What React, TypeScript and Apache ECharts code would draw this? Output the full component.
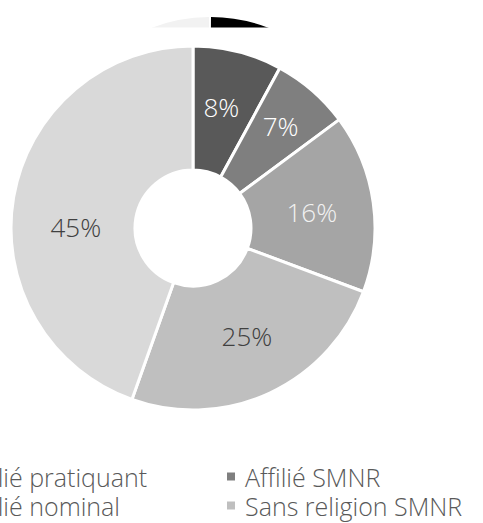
import React, { useEffect, useRef } from "react";
import * as echarts from "echarts";

const categories = [
  "Affilié pratiquant",
  "Affilié SMNR",
  "Affilié nominal",
  "Sans religion SMNR",
  "Sans religion",
];
const values = [8, 7, 16, 25, 45];
const colors = ["#595959", "#7f7f7f", "#a5a5a5", "#bfbfbf", "#d9d9d9"];
const labelColors = ["#ffffff", "#ffffff", "#f2f2f2", "#404040", "#404040"];
// small nudges of the in-slice labels (layout only)
const labelNudgeX = [-2, 7, -3, 2, 4];
const labelNudgeY = [-2, -9, 1, -4, 20];

const FONT = "'Open Sans', 'Noto Sans', sans-serif";

export default function App() {
  const ref = useRef<HTMLDivElement>(null);
  useEffect(() => {
    if (!ref.current) return;
    const chart = echarts.init(ref.current, null, { renderer: "svg" });
    const legendText = {
      fontFamily: FONT,
      fontSize: 25,
      fontWeight: 300,
      color: "#595959",
      padding: [0, 0, 0, 4],
    };
    const top = -Math.PI / 2;
    chart.setOption({
      animation: false,
      backgroundColor: "#ffffff",
      legend: [
        {
          data: [categories[0], categories[2]],
          orient: "vertical",
          left: -58,
          top: 464,
          padding: 0,
          itemWidth: 10,
          itemHeight: 10,
          itemGap: 4,
          icon: "rect",
          selectedMode: false,
          textStyle: legendText,
        },
        {
          data: [categories[1], categories[3]],
          orient: "vertical",
          left: 225,
          top: 464,
          padding: 0,
          itemWidth: 10,
          itemHeight: 10,
          itemGap: 4,
          icon: "rect",
          selectedMode: false,
          textStyle: legendText,
        },
      ],
      graphic: [
        {
          type: "sector",
          z: 1,
          shape: { cx: 210, cy: 182, r: 165, r0: 148, startAngle: top - 0.37, endAngle: top - 0.006 },
          style: { fill: "#f2f2f2" },
        },
        {
          type: "sector",
          z: 1,
          shape: { cx: 210, cy: 182, r: 165, r0: 148, startAngle: top + 0.006, endAngle: top + 0.37 },
          style: { fill: "#000000" },
        },
        {
          type: "rect",
          z: 5,
          shape: { x: 0, y: 27.5, width: 483, height: 18 },
          style: { fill: "#ffffff" },
        },
      ],
      series: [
        {
          type: "pie",
          center: [193, 228],
          radius: [58, 182],
          startAngle: 90,
          clockwise: true,
          z: 10,
          data: categories.map((name, i) => ({
            name,
            value: values[i],
            itemStyle: { color: colors[i] },
            label: { color: labelColors[i] },
          })),
          itemStyle: { borderColor: "#ffffff", borderWidth: 3 },
          label: {
            show: true,
            position: "inside",
            formatter: "{c}%",
            fontFamily: FONT,
            fontSize: 26,
            fontWeight: 300,
          },
          labelLayout: (p: any) => ({
            dx: labelNudgeX[p.dataIndex] || 0,
            dy: labelNudgeY[p.dataIndex] || 0,
          }),
          labelLine: { show: false },
          emphasis: { disabled: true },
        },
      ],
    });
    return () => chart.dispose();
  }, []);
  return (
    <div
      ref={ref}
      style={{ position: "fixed", left: 0, top: 0, width: 483, height: 523 }}
    />
  );
}
